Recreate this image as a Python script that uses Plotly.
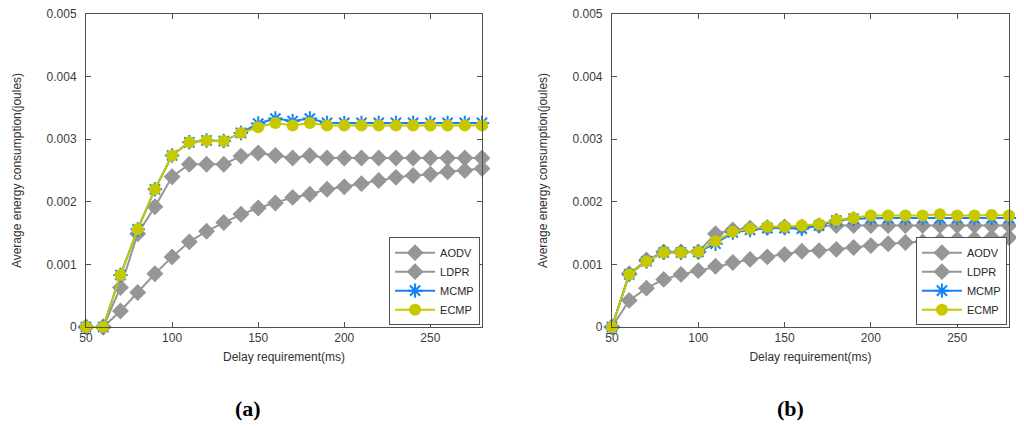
import plotly.graph_objects as go

delay = [50, 60, 70, 80, 90, 100, 110, 120, 130, 140, 150, 160,
         170, 180, 190, 200, 210, 220, 230, 240, 250, 260, 270, 280]

# panel (a)
aodv_a = [0, 0, 0.00063, 0.00149, 0.00192, 0.0024, 0.0026, 0.0026, 0.0026, 0.00273, 0.00278, 0.00274,
          0.0027, 0.00274, 0.0027, 0.0027, 0.0027, 0.0027, 0.0027, 0.0027, 0.0027, 0.0027, 0.0027, 0.0027]
ldpr_a = [0, 0, 0.000256, 0.00055, 0.00085, 0.00112, 0.00136, 0.00153, 0.00167, 0.0018, 0.0019, 0.00198,
          0.00207, 0.00212, 0.0022, 0.00224, 0.00229, 0.00234, 0.00239, 0.00242, 0.00244, 0.00248, 0.0025, 0.00253]
mcmp_a = [0, 0, 0.00083, 0.00156, 0.0022, 0.00274, 0.00295, 0.00298, 0.00297, 0.0031, 0.00325, 0.00333,
          0.00329, 0.00333, 0.00326, 0.00326, 0.00326, 0.00326, 0.00326, 0.00326, 0.00326, 0.00326, 0.00326, 0.00326]
ecmp_a = [0, 0, 0.00083, 0.00156, 0.0022, 0.00274, 0.00295, 0.00298, 0.00297, 0.0031, 0.00319, 0.00326,
          0.00322, 0.00326, 0.00322, 0.00322, 0.00322, 0.00322, 0.00322, 0.00322, 0.00322, 0.00322, 0.00322, 0.00322]

# panel (b)
aodv_b = [0, 0.00085, 0.00107, 0.0012, 0.0012, 0.0012, 0.00149, 0.00155, 0.00158, 0.00159, 0.0016, 0.0016,
          0.00162, 0.00162, 0.00162, 0.00162, 0.00162, 0.00162, 0.00162, 0.00162, 0.00162, 0.00162, 0.00162, 0.00162]
ldpr_b = [0, 0.000425, 0.00062, 0.00076, 0.00084, 0.0009, 0.00097, 0.00103, 0.00108, 0.00112, 0.00116, 0.00121,
          0.00122, 0.00124, 0.00127, 0.0013, 0.00133, 0.00135, 0.00136, 0.00138, 0.0014, 0.00141, 0.00143, 0.00143]
mcmp_b = [0, 0.00084, 0.00105, 0.00119, 0.00119, 0.0012, 0.00133, 0.00151, 0.00155, 0.00158, 0.00158, 0.00157,
          0.00162, 0.0017, 0.00173, 0.00174, 0.00174, 0.00174, 0.00174, 0.00174, 0.00174, 0.00174, 0.00174, 0.00174]
ecmp_b = [0, 0.00084, 0.00105, 0.00119, 0.00119, 0.0012, 0.00137, 0.00152, 0.00157, 0.0016, 0.0016, 0.00162,
          0.00164, 0.00171, 0.00174, 0.00178, 0.00178, 0.00178, 0.00178, 0.0018, 0.00178, 0.00178, 0.00179, 0.00178]

x_ticks = [50, 100, 150, 200, 250]
y_ticks = [0, 0.001, 0.002, 0.003, 0.004, 0.005]

GRAY = "rgb(150,150,150)"
BLUE = "rgb(20,130,250)"
YELLOW = "rgb(200,200,0)"
AXIS = "rgb(80,80,80)"
FONT = "Liberation Sans"

styles = [
    ("AODV", dict(color=GRAY, width=2), dict(symbol="diamond", size=13, color=GRAY)),
    ("LDPR", dict(color=GRAY, width=2), dict(symbol="diamond", size=13, color=GRAY)),
    ("MCMP", dict(color=BLUE, width=2), dict(symbol="asterisk-open", size=12, color=BLUE,
                                              line=dict(color=BLUE, width=2))),
    ("ECMP", dict(color=YELLOW, width=2), dict(symbol="circle", size=12, color=YELLOW)),
]

fig = go.Figure()
panels = [
    ([aodv_a, ldpr_a, mcmp_a, ecmp_a], "x", "y", "legend"),
    ([aodv_b, ldpr_b, mcmp_b, ecmp_b], "x2", "y2", "legend2"),
]
for series, xa, ya, leg in panels:
    for (name, line, marker), vals in zip(styles, series):
        fig.add_trace(go.Scatter(
            x=delay, y=vals, name=name, mode="lines+markers",
            line=line, marker=marker, xaxis=xa, yaxis=ya, legend=leg,
            cliponaxis=False,
        ))

axis_common = dict(
    showline=True, linecolor=AXIS, linewidth=1, mirror="ticks",
    ticks="inside", ticklen=5, tickcolor=AXIS, showgrid=False, zeroline=False,
    automargin=False, ticklabeloverflow="allow",
    tickfont=dict(family=FONT, size=12, color="rgb(60,60,60)"),
)
xaxis = dict(axis_common, range=[50, 280], tickvals=x_ticks,
             title=dict(text="Delay requirement(ms)", standoff=8,
                        font=dict(family=FONT, size=12, color="rgb(50,50,50)")))
yaxis = dict(axis_common, range=[0, 0.005], tickvals=y_ticks, ticklabelstandoff=6,
             title=dict(text="Average energy consumption(joules)", standoff=22,
                        font=dict(family=FONT, size=12, color="rgb(50,50,50)")))

legend_common = dict(
    xanchor="right", yanchor="bottom", bgcolor="white",
    bordercolor=AXIS, borderwidth=1,
    font=dict(family=FONT, size=11, color="rgb(40,40,40)"),
    tracegroupgap=0, itemwidth=40,
)

label_font = dict(family="Liberation Serif", size=22, color="black")

# the page puts the plot 8px in from the top-left corner
fig.update_layout(
    width=1024, height=428,
    margin=dict(l=0, r=0, t=0, b=0),
    plot_bgcolor="white", paper_bgcolor="white",
    xaxis=dict(xaxis, domain=[0.0762, 0.4629], anchor="y"),
    yaxis=dict(yaxis, domain=[0.2547, 0.986], anchor="x"),
    xaxis2=dict(xaxis, domain=[0.5898, 0.9775], anchor="y2"),
    yaxis2=dict(yaxis, domain=[0.2547, 0.986], anchor="x2"),
    legend=dict(legend_common, x=0.461, y=0.259),
    legend2=dict(legend_common, x=0.9755, y=0.259),
    annotations=[
        dict(text="<b>(a)</b>", x=0.234, y=0.065, xref="paper", yref="paper",
             xanchor="center", yanchor="middle", showarrow=False, font=label_font),
        dict(text="<b>(b)</b>", x=0.764, y=0.065, xref="paper", yref="paper",
             xanchor="center", yanchor="middle", showarrow=False, font=label_font),
    ],
)

fig.write_html("out.html")
